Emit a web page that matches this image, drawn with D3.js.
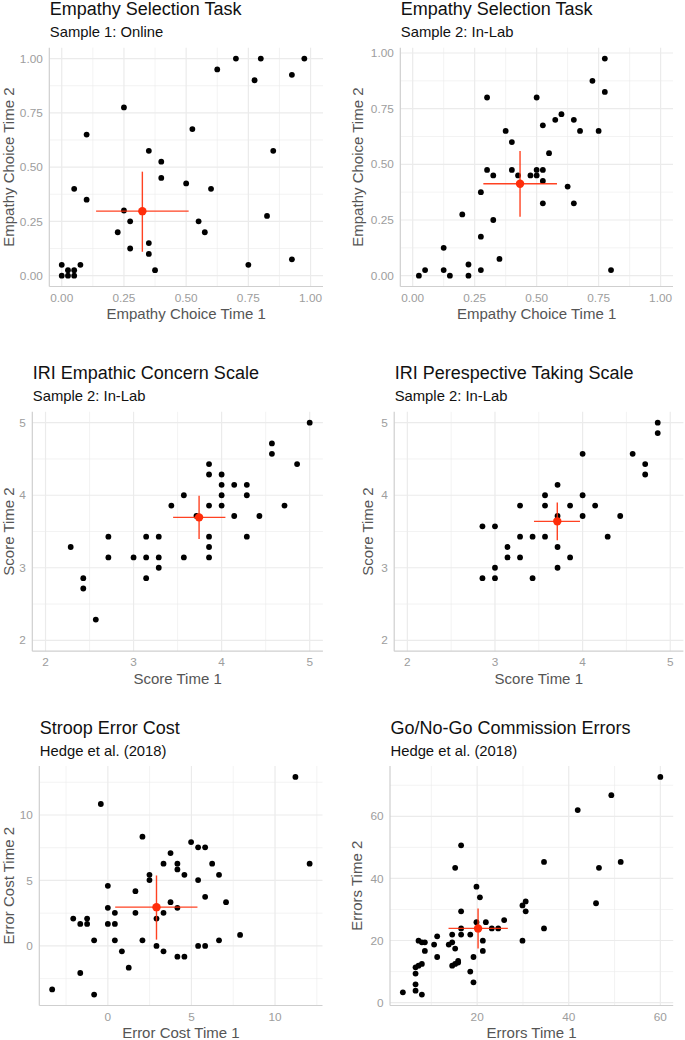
<!DOCTYPE html>
<html><head><meta charset="utf-8">
<script src="https://cdn.jsdelivr.net/npm/d3@7"></script>
<style>body{margin:0;background:#fff} text{font-family:"Liberation Sans",Arial,Helvetica,sans-serif}</style>
</head><body><svg id="c" width="685" height="1040"></svg>
<script>
// ---------- DATA ----------
const titles = ["Empathy Selection Task","Empathy Selection Task","IRI Empathic Concern Scale","IRI Perespective Taking Scale","Stroop Error Cost","Go/No-Go Commission Errors"];
const subtitles = ["Sample 1: Online","Sample 2: In-Lab","Sample 2: In-Lab","Sample 2: In-Lab","Hedge et al. (2018)","Hedge et al. (2018)"];
const xLabels = ["Empathy Choice Time 1","Empathy Choice Time 1","Score Time 1","Score Time 1","Error Cost Time 1","Errors Time 1"];
const yLabels = ["Empathy Choice Time 2","Empathy Choice Time 2","Score Time 2","Score Time 2","Error Cost Time 2","Errors Time 2"];

const p1x = [0,0,0.025,0.025,0.05,0.05,0.075,0.05,0.1,0.1,0.25,0.25,0.225,0.275,0.275,0.35,0.4,0.4,0.35,0.35,0.375,0.5,0.525,0.55,0.575,0.6,0.625,0.7,0.775,0.8,0.75,0.825,0.85,0.925,0.925,0.975];
const p1y = [0.05,0,0.025,0,0.025,0,0.05,0.4,0.35,0.65,0.775,0.3,0.2,0.25,0.125,0.575,0.525,0.45,0.15,0.1,0.025,0.425,0.675,0.25,0.2,0.4,0.95,1,0.9,1,0.05,0.275,0.575,0.925,0.075,1];

const p2x = [0.025,0.05,0.125,0.125,0.15,0.2,0.225,0.225,0.275,0.275,0.275,0.3,0.3,0.325,0.325,0.35,0.375,0.4,0.4,0.425,0.475,0.5,0.5,0.5,0.525,0.525,0.525,0.525,0.55,0.575,0.6,0.625,0.65,0.65,0.675,0.725,0.75,0.775,0.775,0.8];
const p2y = [0,0.025,0.125,0.025,0,0.275,0.05,0,0.375,0.175,0.025,0.8,0.475,0.45,0.25,0.075,0.65,0.6,0.475,0.45,0.45,0.8,0.475,0.45,0.675,0.475,0.425,0.325,0.55,0.7,0.725,0.4,0.7,0.325,0.65,0.875,0.65,0.975,0.825,0.025];

const p3x = [2.286,2.429,2.429,2.571,2.714,2.714,3,3.143,3.143,3.143,3.286,3.286,3.286,3.429,3.571,3.571,3.714,3.857,3.857,3.857,3.857,3.857,3.857,4,4,4,4,4.143,4.143,4.286,4.286,4.286,4.429,4.571,4.571,4.714,4.857,5];
const p3y = [3.286,2.857,2.714,2.286,3.429,3.143,3.143,3.429,3.143,2.857,3.429,3.143,3,3.857,4,3.143,3.714,4.429,4.286,3.857,3.429,3.286,3.143,4.286,4.143,4,3.857,4.143,3.714,4.143,4,3.429,3.714,4.714,4.571,3.857,4.429,5];

const p4x = [2.857,2.857,3,3,3,3.143,3.143,3.286,3.286,3.286,3.429,3.429,3.571,3.571,3.571,3.714,3.714,3.714,3.714,3.857,3.857,4,4,4,4.143,4.286,4.429,4.571,4.714,4.714,4.857,4.857];
const p4y = [2.857,3.571,3.571,3,2.857,3.286,3.143,3.857,3.429,3.143,3.429,2.857,4,3.857,3.429,4.143,3.714,3.286,3,3.857,3.143,4.571,4,3.714,3.857,3.429,3.714,4.571,4.429,4.286,5,4.857];

const p5x = [-3.33,-2.07,-1.65,-1.65,-1.24,-1.24,-0.82,-0.82,-0.42,0,0,0,0.42,0.42,0.42,0.84,1.25,1.65,1.65,2.07,2.07,2.49,2.49,2.91,2.91,3.33,3.33,3.33,3.75,3.75,4.16,4.16,4.16,4.16,4.58,4.58,4.98,5.4,5.4,5.4,5.82,5.82,5.82,6.24,6.65,6.65,7.07,7.91,11.22,12.07];
const p5y = [-3.32,2.09,1.68,-2.07,2.09,1.68,0.43,-3.72,10.84,4.59,2.91,1.68,2.53,1.68,0.43,-0.41,-1.66,4.18,2.53,8.34,0.43,5.43,5.03,2.09,0,6.28,2.53,-0.41,7.09,3.34,6.28,5.84,2.91,-0.82,5.43,-0.82,7.93,7.53,5.03,0,7.53,3.75,0,6.28,5.43,0.43,3.34,0.84,12.91,6.28];

const p6x = [3.78,6.55,6.55,6.55,6.55,7.2,7.93,7.2,7.93,7.93,8.58,8.58,10.6,11.27,11.27,13.8,14.55,14.55,14.55,15.2,15.2,15.2,15.85,15.85,16.5,16.5,16.5,16.5,18.5,18.5,19.2,19.2,19.85,19.85,20.6,21.24,21.24,21.9,23.2,24.6,25.9,29.9,29.9,30.6,30.6,34.6,34.6,41.96,45.96,46.6,49.3,51.35,60];
const p6y = [3.33,3.86,5.9,9.34,11.38,19.96,19.43,11.9,12.45,2.58,19.43,16.64,18.7,21.36,14.7,18.7,19.43,21.9,11.9,43.4,17.4,12.45,12.9,13.4,50.66,29.4,23.9,21.9,21.9,10,14.7,6.55,37.35,25.9,33.9,19.96,16.64,25.9,23.9,23.9,26.6,19.96,31.3,32.6,29.4,45.3,23.9,62,32,43.4,66.8,45.3,72.7];

const meanX = [0.324,0.433,3.744,3.711,2.91,20.2];
const meanY = [0.297,0.413,3.695,3.64,2.96,23.9];
const errX  = [[0.138,0.51],[0.285,0.582],[3.449,4.043],[3.445,3.97],[0.44,5.36],[13.75,26.7]];
const errY  = [[0.11,0.479],[0.264,0.56],[3.396,3.994],[3.378,3.9],[0.48,5.38],[17.4,30.3]];

const xTicks = [[0,0.25,0.5,0.75,1],[0,0.25,0.5,0.75,1],[2,3,4,5],[2,3,4,5],[0,5,10],[20,40,60]];
const yTicks = [[0,0.25,0.5,0.75,1],[0,0.25,0.5,0.75,1],[2,3,4,5],[2,3,4,5],[0,5,10],[0,20,40,60]];
const xLimits = [[0,1],[0,1],[2,5],[2,5],null,null];
const yLimits = [[0,1],null,[2,5],[2,5],null,null];
const tickFmt = ["2f","2f","d","d","d","d"];

const xsAll = [p1x,p2x,p3x,p4x,p5x,p6x];
const ysAll = [p1y,p2y,p3y,p4y,p5y,p6y];

// ---------- LAYOUT ----------
const rects = [
  {l:49.3,r:323,t:47.7,b:286.5, yt:35.6},
  {l:400.3,r:673,t:47.7,b:286.5, yt:37},
  {l:32.3,r:322.9,t:411.8,b:651.2, yt:18.6},
  {l:394.2,r:683.4,t:411.8,b:651.2, yt:21.5},
  {l:39.3,r:322.5,t:766,b:1005.5, yt:25.6},
  {l:390,r:673.2,t:766,b:1005.5, yt:27.7}
];

const svg = d3.select("#c");
const gridCol = "#ebebeb", axisCol = "#cfcfcf", tickCol = "#9d9d9d", titleAxCol = "#555555";
const red = "#ff2d0a";

function expandDomain(vals, lim){
  let lo = d3.min(vals), hi = d3.max(vals);
  if (lim){ lo = Math.min(lo, lim[0]); hi = Math.max(hi, lim[1]); }
  const pad = (hi-lo)*0.05;
  return [lo-pad, hi+pad];
}
function minorTicks(major, dom){
  const step = major[1]-major[0];
  const out = [];
  for (let v = major[0]-step/2; v <= dom[1]; v += step) if (v >= dom[0]) out.push(v);
  return out;
}

for (let i=0;i<6;i++){
  const R = rects[i];
  const xs = xsAll[i], ys = ysAll[i];
  const xd = expandDomain(xs.concat(errX[i]), xLimits[i]);
  const yd = expandDomain(ys.concat(errY[i]), yLimits[i]);
  const x = d3.scaleLinear().domain(xd).range([R.l,R.r]);
  const y = d3.scaleLinear().domain(yd).range([R.b,R.t]);
  const fmt = tickFmt[i]==="2f" ? d3.format(".2f") : d3.format("d");
  const g = svg.append("g");

  // minor grid
  g.selectAll(null).data(minorTicks(xTicks[i],xd)).join("line")
    .attr("x1",d=>x(d)).attr("x2",d=>x(d)).attr("y1",R.t).attr("y2",R.b)
    .attr("stroke",gridCol).attr("stroke-width",0.6);
  g.selectAll(null).data(minorTicks(yTicks[i],yd)).join("line")
    .attr("y1",d=>y(d)).attr("y2",d=>y(d)).attr("x1",R.l).attr("x2",R.r)
    .attr("stroke",gridCol).attr("stroke-width",0.6);
  // major grid
  g.selectAll(null).data(xTicks[i]).join("line")
    .attr("x1",d=>x(d)).attr("x2",d=>x(d)).attr("y1",R.t).attr("y2",R.b)
    .attr("stroke",gridCol).attr("stroke-width",1.2);
  g.selectAll(null).data(yTicks[i]).join("line")
    .attr("y1",d=>y(d)).attr("y2",d=>y(d)).attr("x1",R.l).attr("x2",R.r)
    .attr("stroke",gridCol).attr("stroke-width",1.2);

  // axes lines
  g.append("line").attr("x1",R.l).attr("x2",R.l).attr("y1",R.t).attr("y2",R.b).attr("stroke",axisCol).attr("stroke-width",1.2);
  g.append("line").attr("x1",R.l).attr("x2",R.r).attr("y1",R.b).attr("y2",R.b).attr("stroke",axisCol).attr("stroke-width",1.2);

  // tick labels
  g.selectAll(null).data(xTicks[i]).join("text")
    .attr("x",d=>x(d)).attr("y",R.b+15).attr("text-anchor","middle")
    .attr("font-size",11.8).attr("fill",tickCol).text(fmt);
  g.selectAll(null).data(yTicks[i]).join("text")
    .attr("x",R.l-6.5).attr("y",d=>y(d)).attr("dy","0.35em").attr("text-anchor","end")
    .attr("font-size",11.8).attr("fill",tickCol).text(fmt);

  // axis titles
  g.append("text").attr("x",(R.l+R.r)/2).attr("y",R.b+32.5).attr("text-anchor","middle")
    .attr("font-size",15).attr("fill",titleAxCol).text(xLabels[i]);
  g.append("text").attr("transform",`translate(${R.l-R.yt},${(R.t+R.b)/2}) rotate(-90)`)
    .attr("text-anchor","middle").attr("font-size",15).attr("fill",titleAxCol).text(yLabels[i]);

  // titles
  g.append("text").attr("x",R.l+0.5).attr("y",R.t-32.5).attr("font-size",18).attr("fill","#111").text(titles[i]);
  g.append("text").attr("x",R.l+0.5).attr("y",R.t-10.5).attr("font-size",14.8).attr("fill","#111").text(subtitles[i]);

  // points
  g.selectAll(null).data(d3.range(xs.length)).join("circle")
    .attr("cx",k=>x(xs[k])).attr("cy",k=>y(ys[k])).attr("r",2.9).attr("fill","#000");

  // mean + error bars
  g.append("line").attr("x1",x(errX[i][0])).attr("x2",x(errX[i][1])).attr("y1",y(meanY[i])).attr("y2",y(meanY[i]))
    .attr("stroke",red).attr("stroke-width",1.4).attr("stroke-opacity",0.9);
  g.append("line").attr("x1",x(meanX[i])).attr("x2",x(meanX[i])).attr("y1",y(errY[i][0])).attr("y2",y(errY[i][1]))
    .attr("stroke",red).attr("stroke-width",1.4).attr("stroke-opacity",0.9);
  g.append("circle").attr("cx",x(meanX[i])).attr("cy",y(meanY[i])).attr("r",4.2).attr("fill",red);
}
</script></body></html>
